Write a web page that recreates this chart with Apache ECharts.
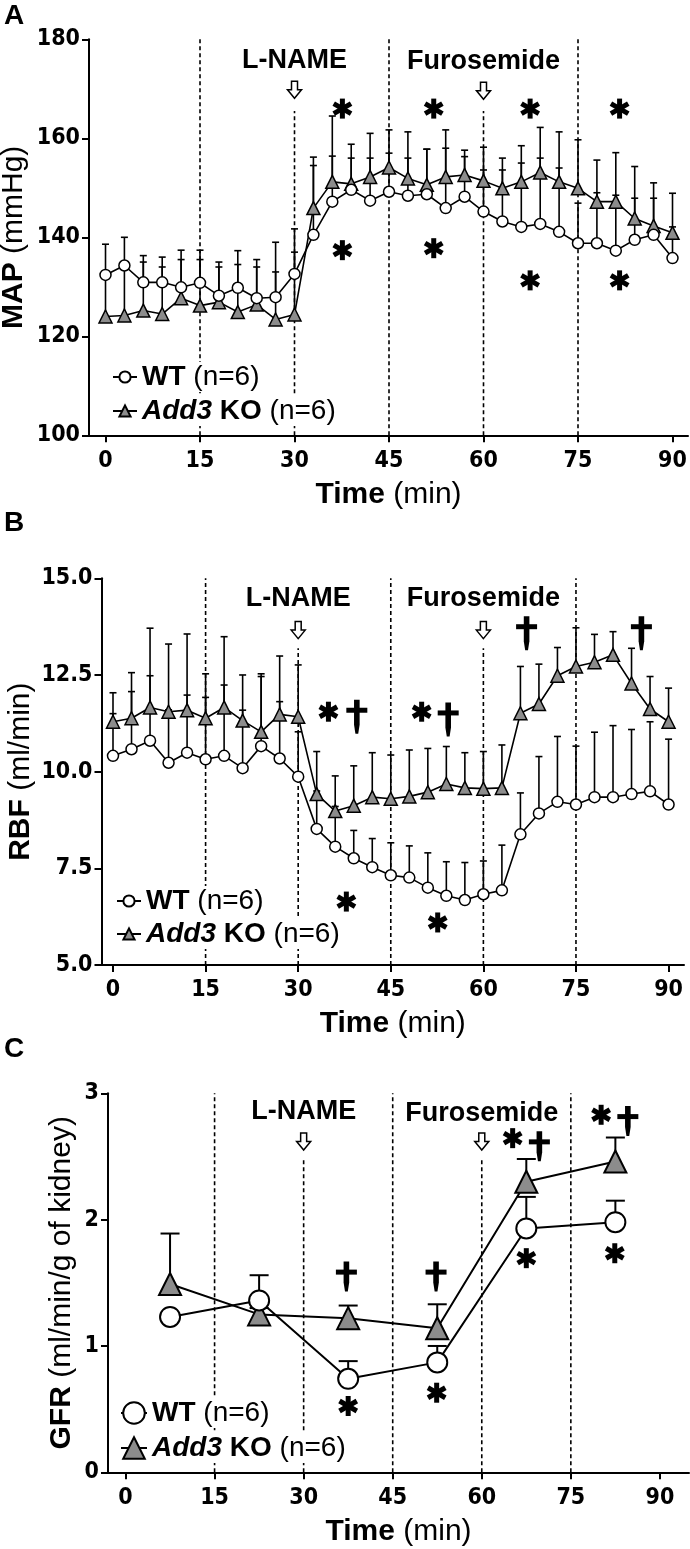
<!DOCTYPE html>
<html><head><meta charset="utf-8">
<script src="https://cdn.jsdelivr.net/npm/echarts@6/dist/echarts.min.js"></script>
<style>html,body{margin:0;padding:0;background:#fff}#c{width:690px;height:1549px}</style>
</head><body><div id="c"></div>
<script>
// ---------- DATA ----------
const timesAB = [0,3,6,9,12,15,18,21,24,27,30,33,36,39,42,45,48,51,54,57,60,63,66,69,72,75,78,81,84,87,90];
// Panel A: MAP (mmHg)
const mapWT    = [132.4,134.3,130.9,130.9,129.9,130.8,128.2,129.8,127.7,127.9,132.6,140.5,147.2,149.6,147.4,149.2,148.4,148.7,145.9,148.2,145.2,143.2,142.1,142.7,141.1,138.8,138.8,137.3,139.5,140.5,135.8];
const mapWTTop = [138.6,140.0,136.3,136.0,137.4,137.4,135.0,137.3,135.5,139.0,141.7,154.5,156.4,156.0,156.0,157.0,156.0,157.8,158.0,156.3,153.6,153.6,155.0,156.0,154.0,146.9,149.0,148.5,147.9,147.9,142.1];
const mapKO    = [124.0,124.2,125.2,124.5,127.7,126.2,126.9,124.9,126.4,123.4,124.4,145.9,151.2,150.8,152.2,154.1,151.9,150.6,152.2,152.6,151.4,149.9,151.2,153.1,151.2,149.9,147.2,147.2,143.8,142.3,140.9];
const mapKOTop = [133.0,133.5,135.0,134.0,135.5,135.5,134.0,134.5,134.0,133.0,137.0,156.2,164.5,158.8,161.0,161.7,161.3,157.8,161.7,157.6,158.2,156.0,158.5,162.2,161.3,159.7,155.6,157.1,154.3,151.0,148.9];
// Panel B: RBF (ml/min)
const rbfWT    = [10.41,10.58,10.80,10.23,10.49,10.32,10.41,10.09,10.66,10.34,9.87,8.52,8.06,7.76,7.53,7.32,7.26,7.00,6.79,6.68,6.83,6.93,8.38,8.92,9.22,9.15,9.34,9.34,9.42,9.49,9.15];
const rbfWTTop = [11.50,12.07,12.48,11.60,11.98,11.92,12.24,11.59,12.46,11.81,11.03,9.50,9.10,8.48,8.27,8.16,8.08,7.90,7.67,7.65,7.69,8.10,9.45,10.39,10.91,10.66,11.02,11.19,11.09,11.29,10.84];
const rbfKO    = [11.29,11.38,11.66,11.55,11.59,11.38,11.66,11.32,11.03,11.48,11.42,9.42,8.98,9.12,9.34,9.30,9.36,9.47,9.68,9.58,9.56,9.58,11.51,11.75,12.48,12.72,12.83,13.02,12.28,11.62,11.29];
const rbfKOTop = [12.04,12.56,13.71,13.30,13.56,12.53,13.49,12.50,12.53,12.99,12.76,10.52,9.89,10.15,10.49,10.43,10.56,10.60,10.65,10.49,10.52,10.69,12.72,12.78,13.21,13.72,13.55,13.62,13.19,12.46,12.16];
// Panel C: GFR (ml/min/g of kidney)
const timesC   = [7.5,22.5,37.5,52.5,67.5,82.5];
const gfrWT    = [1.23,1.36,0.74,0.87,1.93,1.98];
const gfrWTTop = [1.23,1.56,0.88,1.00,2.18,2.15];
const gfrKO    = [1.49,1.25,1.22,1.14,2.30,2.46];
const gfrKOTop = [1.89,1.30,1.32,1.33,2.48,2.65];
// Axis ticks
const xTicks = [0,15,30,45,60,75,90];
// Phase lines (minutes) and their upper ends per panel
const phaseTimes = [15,30,45,60,75];
const phaseTopA = [180,165.5,180,165.5,180];
const phaseTopB = [15,13.19,15,13.19,15];
const phaseTopC = [3,2.473,3,2.473,3];
// Drug labels and their anchor [time, value]; arrows [time, value]
const drugNames = ['L-NAME','Furosemide'];
const drugA = [[30,175.8],[60,175.5]];
const drugB = [[30,14.48],[60,14.48]];
const drugC = [[30,2.855],[60,2.84]];
const arrowA = [[30,169.8],[60,169.6]];
const arrowB = [[30,13.66],[60,13.66]];
const arrowC = [[30,2.618],[60,2.618]];
// Significance marks [time, value]
const starA = [[37.6,166],[52.1,166],[67.4,166],[81.6,166],[37.6,137.4],[52.1,137.8],[67.4,131.3],[81.6,131.3]];
const starB = [[34.9,11.55],[50.0,11.55],[37.8,6.64],[52.6,6.1]];
const dagB  = [[39.5,11.42],[54.3,11.35],[67.0,13.58],[85.6,13.58]];
const starC = [[37.5,0.525],[52.4,0.63],[65.2,2.645],[80.1,2.83],[67.5,1.695],[82.4,1.734]];
const dagC  = [[37.2,1.549],[52.3,1.549],[69.7,2.58],[84.6,2.78]];

// ---------- RENDERING ----------
const FF = '"Liberation Sans", Arial, Helvetica, sans-serif';
const FN = '"Liberation Sans Narrow", "DejaVu Sans Condensed", "Liberation Sans", sans-serif';
const chart = echarts.init(document.getElementById('c'), null, {renderer:'canvas'});

function errRender(capW, lw){
  return function(params, api){
    const x = api.value(0), v = api.value(1), t = api.value(2);
    const a = api.coord([x, v]), b = api.coord([x, t]);
    return {type:'group', children:[
      {type:'line', shape:{x1:a[0],y1:a[1],x2:b[0],y2:b[1]}, style:{stroke:'#000',lineWidth:lw}},
      {type:'line', shape:{x1:b[0]-capW/2,y1:b[1],x2:b[0]+capW/2,y2:b[1]}, style:{stroke:'#000',lineWidth:lw}}
    ]};
  };
}
function vlineRender(params, api){
  const x = api.value(0);
  const a = api.coord([x, api.value(1)]), b = api.coord([x, api.value(2)]);
  return {type:'line', shape:{x1:a[0],y1:a[1],x2:b[0],y2:b[1]}, style:{stroke:'#000',lineWidth:1.6,lineDash:[4,3]}};
}
function textRender(size){
  return function(params, api){
    const p = api.coord([api.value(0), api.value(1)]);
    return {type:'text', x:p[0], y:p[1], style:{text: drugNames[params.dataIndex], fill:'#000', font:'bold '+size+'px '+FF, align:'center', verticalAlign:'middle'}};
  };
}
function arrowRender(params, api){
  const p = api.coord([api.value(0), api.value(1)]);
  const pts = [[-3,-8.5],[3,-8.5],[3,0],[7,0],[0,8.5],[-7,0],[-3,0]].map(q=>[p[0]+q[0], p[1]+q[1]]);
  return {type:'polygon', shape:{points:pts}, style:{fill:'#fff', stroke:'#000', lineWidth:1.5}};
}
function starRender(params, api){
  const p = api.coord([api.value(0), api.value(1)]);
  const r = 10;
  return {type:'group', children:[90,30,-30].map(function(deg){
    const a = deg*Math.PI/180;
    return {type:'line', shape:{x1:p[0]-r*Math.cos(a), y1:p[1]-r*Math.sin(a), x2:p[0]+r*Math.cos(a), y2:p[1]+r*Math.sin(a)}, style:{stroke:'#000', lineWidth:5}};
  })};
}
function dagRender(h, w){
  return function(params, api){
    const p = api.coord([api.value(0), api.value(1)]);
    const stem = [[-2.8,-h/2],[2.8,-h/2],[2.8,h/2-9],[1.4,h/2],[-1.4,h/2],[-2.8,h/2-9]].map(q=>[p[0]+q[0],p[1]+q[1]]);
    return {type:'group', children:[
      {type:'rect', shape:{x:p[0]-w/2, y:p[1]-h/2+8, width:w, height:5}, style:{fill:'#000'}},
      {type:'polygon', shape:{points:stem}, style:{fill:'#000'}}
    ]};
  };
}

const grids = [
  {left:89,  top:39.3,   width:599, height:396,   show:false, outerBoundsMode:'none', containLabel:false},
  {left:101.5, top:578.3, width:582.5, height:386.7, show:false, outerBoundsMode:'none', containLabel:false},
  {left:108, top:1093.3, width:581, height:379,  show:false, outerBoundsMode:'none', containLabel:false}
];
function xAxis(idx, min, max){
  return {type:'value', gridIndex:idx, min:min, max:max,
    axisLine:{show:true, onZero:false, lineStyle:{color:'#000', width:2}},
    axisTick:{show:true, customValues:xTicks, length:7, lineStyle:{color:'#000', width:2}},
    axisLabel:{customValues:xTicks, color:'#000', fontSize:23, fontWeight:'bold', fontFamily:FN, margin:14},
    splitLine:{show:false},
    name:'{b|Time} {n|(min)}', nameLocation:'middle', nameGap:44,
    nameTextStyle:{color:'#000', fontFamily:FF, fontSize:30, rich:{b:{fontWeight:'bold',fontSize:30,fontFamily:FF}, n:{fontSize:30,fontFamily:FF}}}
  };
}
function yAxis(idx, min, max, interval, bold, rest, gap, fmt){
  return {type:'value', gridIndex:idx, min:min, max:max, interval:interval,
    axisLine:{show:true, onZero:false, lineStyle:{color:'#000', width:2}},
    axisTick:{show:true, length:7, lineStyle:{color:'#000', width:2}},
    axisLabel:{color:'#000', fontSize:23, fontWeight:'bold', fontFamily:FN, margin:9, formatter:fmt},
    splitLine:{show:false},
    name:'{b|'+bold+'} {n|'+rest+'}', nameLocation:'middle', nameGap:gap, nameMoveOverlap:false,
    nameTextStyle:{color:'#000', fontFamily:FF, fontSize:30, rich:{b:{fontWeight:'bold',fontSize:30,fontFamily:FF}, n:{fontSize:30,fontFamily:FF}}}
  };
}

function panelSeries(p, times, wt, wtTop, ko, koTop, opts){
  const s = [];
  const ax = {xAxisIndex:opts.idx, yAxisIndex:opts.idx};
  s.push(Object.assign({type:'custom', name:'vl'+p, z:1, renderItem:vlineRender,
    data: phaseTimes.map((t,i)=>[t, opts.yMin, opts.phaseTop[i]])}, ax));
  s.push(Object.assign({type:'custom', name:'eko'+p, z:2, renderItem:errRender(opts.cap, opts.elw),
    data: times.map((t,i)=>[t, ko[i], koTop[i]])}, ax));
  s.push(Object.assign({type:'custom', name:'ewt'+p, z:2, renderItem:errRender(opts.cap, opts.elw),
    data: times.map((t,i)=>[t, wt[i], wtTop[i]])}, ax));
  s.push(Object.assign({type:'line', name:'KO_'+p, z:3,
    data: times.map((t,i)=>[t, ko[i]]), symbol:'triangle', symbolSize:opts.tri,
    itemStyle:{color:'#8c8c8c', borderColor:'#000', borderWidth:opts.blw},
    lineStyle:{color:'#000', width:opts.llw}}, ax));
  s.push(Object.assign({type:'line', name:'WT_'+p, z:4,
    data: times.map((t,i)=>[t, wt[i]]), symbol:'circle', symbolSize:opts.cir,
    itemStyle:{color:'#fff', borderColor:'#000', borderWidth:opts.blw},
    lineStyle:{color:'#000', width:opts.llw}}, ax));
  s.push(Object.assign({type:'custom', name:'tx'+p, z:6, renderItem:textRender(27), data: opts.drug}, ax));
  s.push(Object.assign({type:'custom', name:'ar'+p, z:6, renderItem:arrowRender, data: opts.arrow}, ax));
  s.push(Object.assign({type:'custom', name:'st'+p, z:6, renderItem:starRender, data: opts.star}, ax));
  if (opts.dag) s.push(Object.assign({type:'custom', name:'dg'+p, z:6, renderItem:dagRender(opts.dh, 21), data: opts.dag}, ax));
  return s;
}

const series = [].concat(
  panelSeries('A', timesAB, mapWT, mapWTTop, mapKO, mapKOTop, {idx:0, yMin:100, phaseTop:phaseTopA, cap:7, elw:1.6, tri:13, cir:11, blw:1.5, llw:1.6, drug:drugA, arrow:arrowA, star:starA}),
  panelSeries('B', timesAB, rbfWT, rbfWTTop, rbfKO, rbfKOTop, {idx:1, yMin:5, phaseTop:phaseTopB, cap:7, elw:1.6, tri:13, cir:11, blw:1.5, llw:1.6, drug:drugB, arrow:arrowB, star:starB, dag:dagB, dh:34}),
  panelSeries('C', timesC, gfrWT, gfrWTTop, gfrKO, gfrKOTop, {idx:2, yMin:0, phaseTop:phaseTopC, cap:19, elw:2, tri:22, cir:20, blw:2, llw:2, drug:drugC, arrow:arrowC, star:starC, dag:dagC, dh:30})
);

const legFmt = function(name){ return name.indexOf('WT')===0 ? '{b|WT} {n|(n=6)}' : '{bi|Add3} {b|KO} {n|(n=6)}'; };
function leg(name, left, top, iw, ih){
  return {data:[name], left:left, top:top, orient:'horizontal', itemWidth:iw, itemHeight:ih, padding:[1,4,1,1],
    backgroundColor:'#fff', selectedMode:false, formatter:legFmt, z:10,
    textStyle:{color:'#000', fontFamily:FF, fontSize:28, rich:{
      b:{fontWeight:'bold', fontSize:28, fontFamily:FF},
      bi:{fontWeight:'bold', fontStyle:'italic', fontSize:28, fontFamily:FF},
      n:{fontSize:28, fontFamily:FF}}}};
}

const option = {
  animation:false,
  backgroundColor:'#fff',
  grid: grids,
  xAxis: [xAxis(0, -2.62, 92.46), xAxis(1, -1.863, 92.5), xAxis(2, -2.95, 94.9)],
  yAxis: [
    yAxis(0, 100, 180, 20, 'MAP', '(mmHg)', 60),
    yAxis(1, 5, 15, 2.5, 'RBF', '(ml/min)', 66, v=>v.toFixed(1)),
    yAxis(2, 0, 3, 1, 'GFR', '(ml/min/g of kidney)', 31)
  ],
  legend: [
    leg('WT_A', 111, 362, 24, 14), leg('KO_A', 111, 396, 24, 14),
    leg('WT_B', 115, 886, 24, 14), leg('KO_B', 115, 919, 24, 14),
    leg('WT_C', 119, 1398, 26, 27), leg('KO_C', 119, 1433, 26, 27)
  ],
  graphic: [
    {type:'text', left:4, top:2, style:{text:'A', font:'bold 28px '+FF, fill:'#000'}},
    {type:'text', left:4, top:509, style:{text:'B', font:'bold 28px '+FF, fill:'#000'}},
    {type:'text', left:4, top:1035, style:{text:'C', font:'bold 28px '+FF, fill:'#000'}}
  ],
  series: series
};
chart.setOption(option);
</script>
</body></html>
